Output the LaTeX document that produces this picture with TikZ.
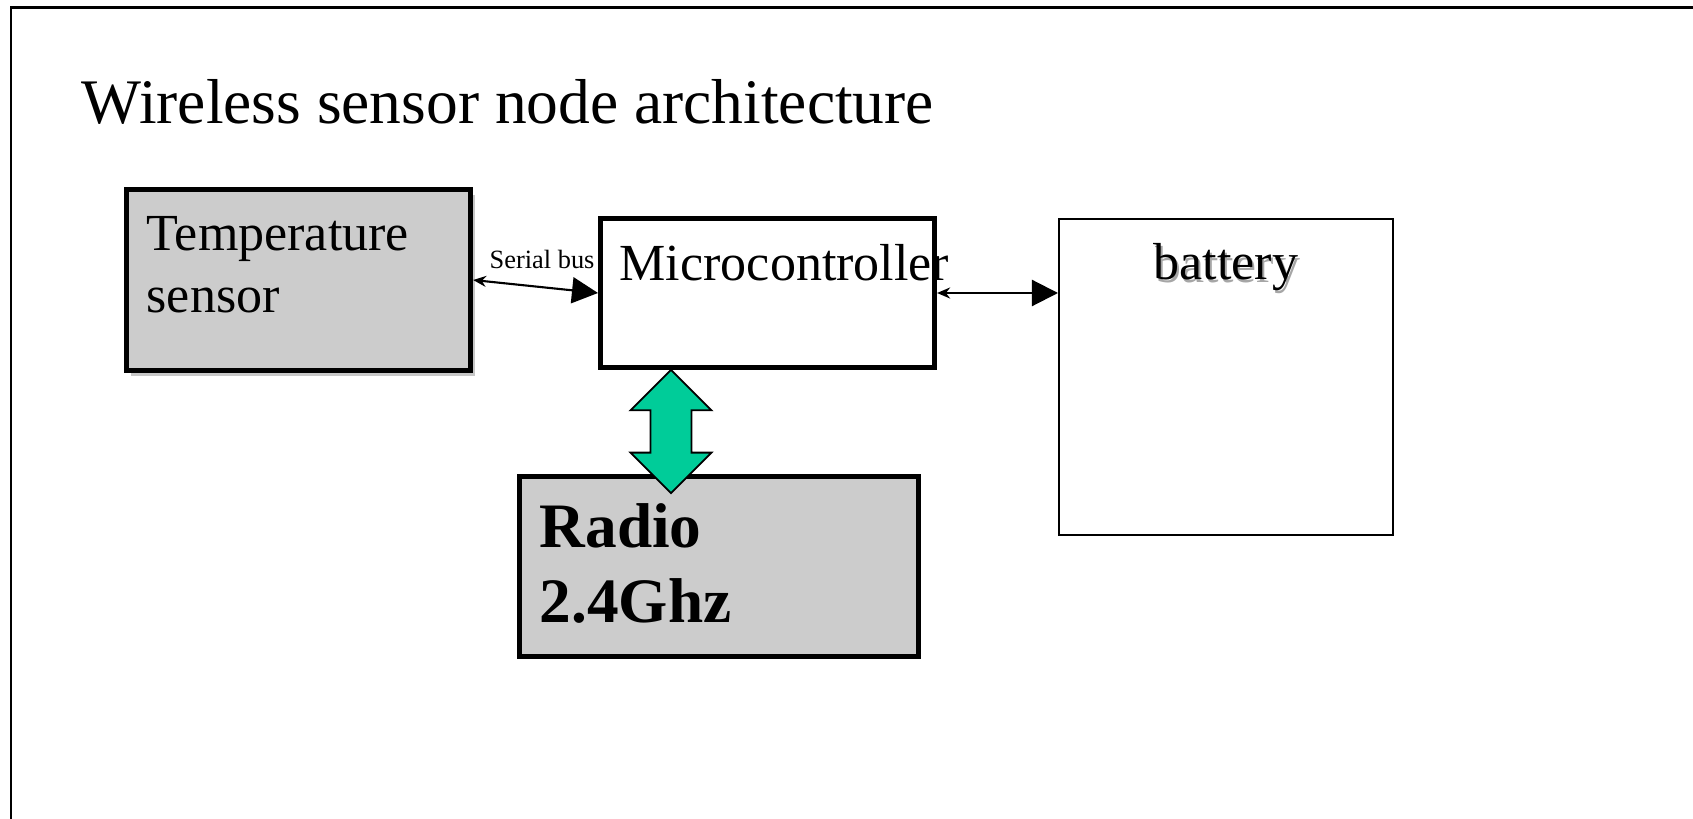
\documentclass[tikz,border=0pt]{standalone}
\usepackage{fontspec}
\setmainfont{Liberation Serif}
\usetikzlibrary{positioning,arrows.meta,shapes.arrows,shadows}
\definecolor{boxgray}{HTML}{CCCCCC}
\definecolor{linkgreen}{HTML}{00CC99}

\begin{document}
\begin{tikzpicture}[
			x=0.01cm,
			y=-0.01cm,
			box/.style={
				draw,
				rectangle,
				inner sep=0pt,
				anchor=north west
			},
			heavy/.style={
				box,
				line width=1.4pt
			},
			body/.style={
				inner sep=0pt,
				align=left,
				anchor=base west,
				font=\fontsize{14.8}{17.9}\selectfont
			},
			wire/.style={
				line width=0.6pt,
				{Stealth[length=1.3mm,width=1.1mm]}-{Triangle[length=2.6mm,width=2.6mm]}
			}
			]
			\useasboundingbox (0,0) rectangle (1693,819);
			\draw[line width=0.85pt] (11,819) -- (11,7.5) -- (1693,7.5);
			
			\node[inner sep=0pt, anchor=base west, font=\fontsize{18.05}{21}\selectfont] (title) at (81,124) {Wireless sensor node architecture};
			
			\node[heavy, fill=boxgray, minimum width=3.44cm, minimum height=1.81cm,
				drop shadow={shadow xshift=0.045cm, shadow yshift=-0.055cm, opacity=0.45}] (temp) at (124,187) {};
			\node[body] (tempText) at (146,313) {Temperature\\sensor};
			
			\node[heavy, minimum width=3.34cm, minimum height=1.49cm] (mcu) at (598,216) {};
			\node[body] (mcuText) at (619,281) {Microcontroller};
			
			\node[box, line width=0.6pt, minimum width=3.34cm, minimum height=3.16cm] (batt) at (1058,218) {};
			\node[body, anchor=base, text=black!35] (battShadow) at (1228,282.5) {battery};
			\node[body, anchor=base] (battText) at (1226,280) {battery};
			
			\node[heavy, fill=boxgray, minimum width=3.99cm, minimum height=1.80cm] (radio) at (517,474) {};
			\node[body, font=\fontsize{18}{21.6}\selectfont\bfseries] (radioText) at (539,623) {Radio\\2.4Ghz};
			
			\draw[wire] (temp.east) -- (mcu.west);
			\node[inner sep=0pt, anchor=base west, font=\fontsize{7.5}{9}\selectfont] (busLabel) at (489,269) {Serial bus};
			\draw[wire] (mcu.east) -- (mcu.east -| batt.west);
			
			\node[double arrow, draw, fill=linkgreen, rotate=90, inner xsep=0pt, inner ysep=0.195cm, line width=0.5pt,
				minimum height=1.23cm, minimum width=0.79cm, double arrow head extend=0.2cm] (link) at (671,431.5) {};
		\end{tikzpicture}
\end{document}
